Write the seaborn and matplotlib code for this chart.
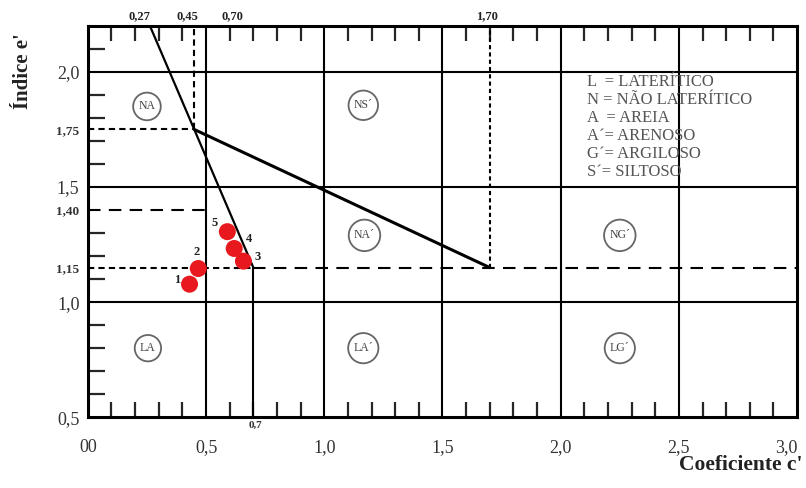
import numpy as np
import pandas as pd
import seaborn as sns
import matplotlib.pyplot as plt

# amostras (coeficiente c', indice e')
amostras = ['1', '2', '3', '4', '5']
coef_c = [0.43, 0.467, 0.658, 0.619, 0.590]
indice_e = [1.078, 1.146, 1.178, 1.233, 1.306]

x_ticks = [0.0, 0.5, 1.0, 1.5, 2.0, 2.5, 3.0]
x_labels = ['00', '0,5', '1,0', '1,5', '2,0', '2,5', '3,0']
y_ticks = [0.5, 1.0, 1.15, 1.40, 1.5, 1.75, 2.0]
y_labels = ['0,5', '1,0', '1,15', '1,40', '1,5', '1,75', '2,0']
y_small = ['1,15', '1,40', '1,75']

regioes = ['NA', 'NS´', 'NA´', 'NG´', 'LA', 'LA´', 'LG´']
reg_x = [0.25, 1.165, 1.17, 2.25, 0.254, 1.165, 2.25]
reg_y = [1.85, 1.855, 1.29, 1.29, 0.80, 0.80, 0.80]

legenda = ['L  = LATERÍTICO', 'N = NÃO LATERÍTICO', 'A  = AREIA',
           'A´= ARENOSO', 'G´= ARGILOSO', 'S´= SILTOSO']


def main():
    sns.set_style('white')
    plt.rcParams['font.family'] = ['Liberation Serif', 'DejaVu Serif']

    fig = plt.figure(figsize=(8.06, 4.88), dpi=100)
    ax = fig.add_axes([0.109, 0.145, 0.880, 0.802])
    ax.set_xlim(0, 3.0)
    ax.set_ylim(0.5, 2.2)

    k = 'black'
    # linhas da grade principal
    for xv in [0.5, 1.0, 1.5, 2.0, 2.5]:
        ax.axvline(xv, color=k, lw=1.5, zorder=1)
    for yv in [1.0, 1.5, 2.0]:
        ax.axhline(yv, color=k, lw=1.5, zorder=1)
    ax.plot([0.7, 0.7], [0.5, 1.15], color=k, lw=1.5, zorder=1)

    # linhas tracejadas
    ax.plot([0, 0.45], [1.75, 1.75], color=k, lw=1.5, ls=(0, (3, 2)))
    ax.plot([0.45, 0.45], [1.75, 2.2], color=k, lw=1.5, ls=(0, (3, 2)))
    ax.plot([0, 0.5], [1.40, 1.40], color=k, lw=1.5, ls=(0, (6, 4)))
    ax.plot([0, 0.7], [1.15, 1.15], color=k, lw=1.5, ls=(0, (3, 2)))
    ax.plot([0.7, 3.0], [1.15, 1.15], color=k, lw=1.5, ls=(0, (6, 4)))
    ax.plot([1.70, 1.70], [1.15, 2.2], color=k, lw=1.5, ls=(0, (2, 1.5)))

    # retas diagonais
    ax.plot([0.2625, 0.7], [2.2, 1.15], color=k, lw=1.6, zorder=2)
    ax.plot([0.45, 1.70], [1.75, 1.15], color=k, lw=2.2, zorder=2)

    df = pd.DataFrame({'c': coef_c, 'e': indice_e, 'amostra': amostras})
    sns.scatterplot(data=df, x='c', y='e', ax=ax, color='#e8191e', s=150,
                    edgecolor='none', zorder=5, legend=False)
    offsets = {'1': (-9, 3), '2': (-1.5, 12), '3': (10, 3), '4': (11, 7), '5': (-9, 6)}
    for _, r in df.iterrows():
        ax.annotate(r['amostra'], (r['c'], r['e']), xytext=offsets[r['amostra']],
                    textcoords='offset points', ha='center', va='center',
                    fontsize=9, fontweight='bold', color='#222222', zorder=6)

    # regioes circuladas
    for nome, xr, yr in zip(regioes, reg_x, reg_y):
        ax.text(xr, yr, nome, ha='center', va='center', fontsize=8.5,
                color='#444444',
                bbox=dict(boxstyle='circle,pad=0.45', fc='white', ec='#666666', lw=1.3))

    # legenda de siglas
    for i, linha in enumerate(legenda):
        ax.text(2.11, 1.957 - i * 0.078, linha, fontsize=12, color='#555555',
                va='center', ha='left')

    # eixos e marcas
    for s in ax.spines.values():
        s.set_color(k)
        s.set_linewidth(2.2)
    ax.set_xticks(x_ticks)
    ax.set_xticklabels(x_labels)
    ax.set_xticks(np.arange(0.1, 3.0, 0.1), minor=True)
    ax.set_yticks(y_ticks)
    ax.set_yticklabels(y_labels)
    ax.set_yticks(np.arange(0.6, 2.15, 0.1), minor=True)
    ax.tick_params(axis='x', which='major', direction='out', length=8, width=2,
                   pad=8, labelsize=13, labelcolor='#333333', top=False)
    ax.tick_params(axis='x', which='minor', direction='in', length=11, width=1.6,
                   top=True, bottom=True)
    ax.tick_params(axis='y', which='major', length=0, pad=6, labelsize=13,
                   labelcolor='#333333')
    ax.tick_params(axis='y', which='minor', direction='in', length=12, width=1.6,
                   left=True, right=False)
    for lab in ax.get_yticklabels():
        if lab.get_text() in y_small:
            lab.set_fontsize(9.5)
            lab.set_fontweight('bold')
    ax.get_xticklabels()[-1].set_horizontalalignment('right')

    # rotulos superiores
    for txt, xt in zip(['0,27', '0,45', '0,70', '1,70'], [0.22, 0.42, 0.61, 1.69]):
        ax.text(xt, 2.215, txt, ha='center', va='bottom', fontsize=9,
                fontweight='bold', color='#222222')
    ax.text(0.71, 0.485, '0,7', ha='center', va='top', fontsize=8,
            fontweight='bold', color='#333333')

    ax.set_xlabel('')
    ax.set_ylabel('')
    fig.text(0.028, 0.855, 'Índice e\'', rotation=90, ha='center', va='center',
             fontsize=15, fontweight='bold', color='#222222')
    fig.text(0.996, 0.047, 'Coeficiente c\'', ha='right', va='center',
             fontsize=15.5, fontweight='bold', color='#222222')

    fig.savefig('out.png', dpi=100)


if __name__ == '__main__':
    main()
